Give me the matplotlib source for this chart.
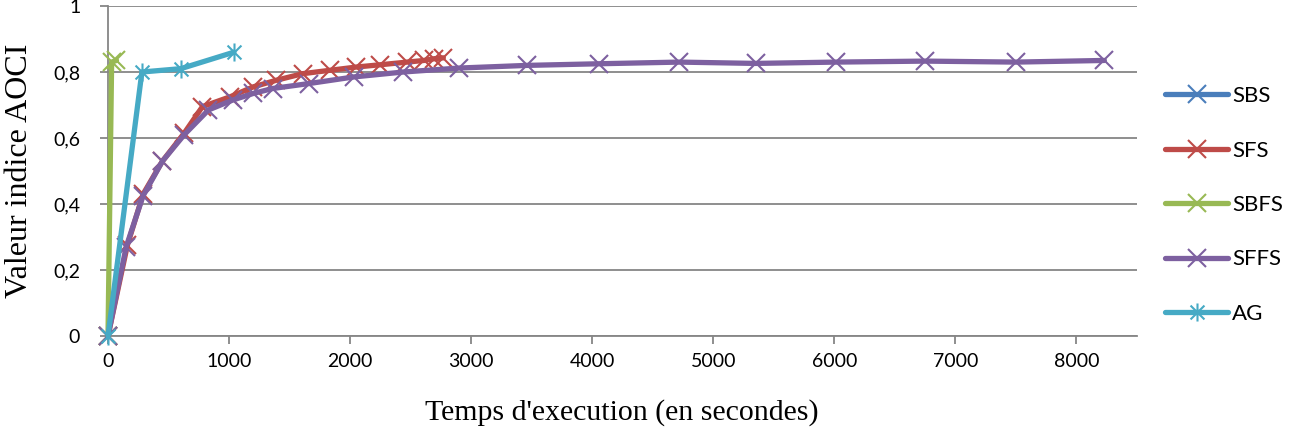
import matplotlib
matplotlib.use("Agg")
import matplotlib.pyplot as plt
from matplotlib.path import Path

# ---- data ----
sbs_x = [0]
sbs_y = [0]

sfs_x = [0, 160, 290, 450, 630, 780, 1010, 1200, 1390, 1610, 1830, 2050, 2250, 2470, 2610, 2690, 2770]
sfs_y = [0, 0.275, 0.43, 0.53, 0.615, 0.695, 0.725, 0.755, 0.775, 0.795, 0.805, 0.815, 0.822, 0.83, 0.835, 0.84, 0.843]

sbfs_x = [0, 30, 70]
sbfs_y = [0, 0.83, 0.835]

sffs_x = [0, 150, 290, 450, 630, 830, 1030, 1200, 1360, 1660, 2030, 2440, 2900, 3460, 4060, 4720, 5350, 6010, 6750, 7500, 8230]
sffs_y = [0, 0.27, 0.425, 0.53, 0.61, 0.685, 0.715, 0.735, 0.75, 0.765, 0.785, 0.80, 0.812, 0.82, 0.825, 0.83, 0.826, 0.83, 0.833, 0.83, 0.835]

ag_x = [0, 280, 600, 1040]
ag_y = [0, 0.80, 0.81, 0.86]

labels = ["SBS", "SFS", "SBFS", "SFFS", "AG"]
colors = ["#4A7EBB", "#BE4B48", "#98B954", "#7D60A0", "#46AAC5"]
x_ticks = [0, 1000, 2000, 3000, 4000, 5000, 6000, 7000, 8000]
y_ticks = [0, 0.2, 0.4, 0.6, 0.8, 1.0]
y_tick_labels = ["0", "0,2", "0,4", "0,6", "0,8", "1"]

# star marker (x with vertical bar)
star = Path([(-1, -1), (1, 1), (-1, 1), (1, -1), (0, -1.3), (0, 1.3)],
            [Path.MOVETO, Path.LINETO, Path.MOVETO, Path.LINETO, Path.MOVETO, Path.LINETO])

fig = plt.figure(figsize=(12.93, 4.32), dpi=100)
ax = fig.add_axes([108/1293, 1-336/432, (1137-108)/1293, (336-6)/432])

series = [(sbs_x, sbs_y), (sfs_x, sfs_y), (sbfs_x, sbfs_y), (sffs_x, sffs_y), (ag_x, ag_y)]
for i, ((xs, ys), lab, col) in enumerate(zip(series, labels, colors)):
    mk = star if lab == "AG" else "x"
    ax.plot(xs, ys, color=col, lw=3.8, marker=mk, ms=13, mew=1.5, clip_on=False,
            label=lab, solid_joinstyle="round", solid_capstyle="round", zorder=3+i)

ax.set_xlim(0, 8500)
ax.set_ylim(0, 1)
ax.set_xticks(x_ticks)
ax.set_xticklabels([str(t) for t in x_ticks])
ax.set_yticks(y_ticks)
ax.set_yticklabels(y_tick_labels)
ax.grid(axis="y", color="#868686", lw=1.3)
ax.set_axisbelow(True)
for s in ["top", "right"]:
    ax.spines[s].set_visible(False)
for s in ["left", "bottom"]:
    ax.spines[s].set_color("#868686")
    ax.spines[s].set_linewidth(1.3)
ax.tick_params(axis="both", colors="#868686", length=6, width=1.3, labelcolor="black",
               labelsize=14)
for t in ax.get_xticklabels() + ax.get_yticklabels():
    t.set_fontfamily("Lato")
ax.tick_params(axis="x", pad=6)
ax.tick_params(axis="y", pad=14)

ax.set_xlabel("Temps d'execution (en secondes)", fontfamily="Liberation Serif", fontsize=21.5)
ax.set_ylabel("Valeur indice AOCI", fontfamily="Liberation Serif", fontsize=23)
ax.xaxis.set_label_coords((622 - 108) / 1029, -(413 - 336) / 330)
ax.yaxis.set_label_coords(-(108 - 20) / 1029, (336 - 171) / 330)
ax.xaxis.label.set_verticalalignment("center")
ax.yaxis.label.set_verticalalignment("center")

leg = ax.legend(loc="center left", bbox_to_anchor=(1165/1293, 1 - 205/432), bbox_transform=fig.transFigure,
                frameon=False, handlelength=2.84, labelspacing=1.55, handletextpad=0.18,
                borderpad=0, borderaxespad=0,
                prop={"family": "Lato", "size": 16})

fig.savefig("out.png", dpi=100)
